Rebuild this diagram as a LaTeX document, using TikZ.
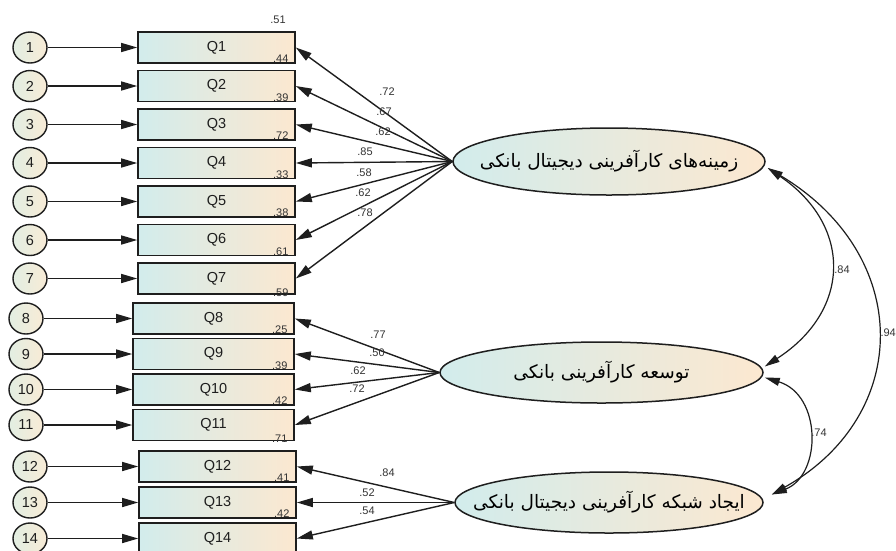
\documentclass[tikz,border=0pt]{standalone}
\usepackage{fontspec}
\setmainfont{Liberation Sans}
\newfontfamily\fa[Script=Arabic]{DejaVu Sans}
\TeXXeTstate=1
\usetikzlibrary{shapes.geometric,arrows.meta,calc}
\definecolor{cy}{HTML}{D2ECEC}
\definecolor{pe}{HTML}{FCE8D0}
\definecolor{ccy}{HTML}{E2EEE2}
\definecolor{cpe}{HTML}{F8EBD6}
\definecolor{ink}{HTML}{1E1E1E}
\definecolor{lab}{HTML}{333333}
\begin{document}
\begin{tikzpicture}[x=1pt,y=-1pt,
  box/.style={draw=ink, line width=1.6pt, left color=cy, right color=pe, minimum width=157pt, minimum height=31pt, inner sep=0pt, font=\fontsize{14.5}{14.5}\selectfont, text=ink},
  boxb/.style={box, minimum width=161pt},
  err/.style={ellipse, draw=ink, line width=1.4pt, left color=ccy, right color=cpe, minimum width=34pt, minimum height=31pt, inner sep=0pt, font=\fontsize{14.5}{14.5}\selectfont, text=ink},
  lat/.style={ellipse, draw=ink, line width=1.5pt, left color=cy, right color=pe, inner sep=0pt},
  fatext/.style={inner sep=0pt, font=\fa\fontsize{18.5}{18.5}\selectfont, text=black},
  arr/.style={draw=ink, line width=1.4pt, -{Triangle[length=16pt,width=9pt]}},
  corr/.style={draw=ink, line width=1.2pt, {Triangle[length=15pt,width=8pt]}-{Triangle[length=15pt,width=8pt]}},
  lbl/.style={font=\fontsize{11}{11}\selectfont, text=lab, inner sep=0pt}]
\clip (0,0) rectangle (896,550);
\fill[white] (0,0) rectangle (896,550);

% latent factors
\node[lat, minimum width=312pt, minimum height=67pt] (f1) at (609,161.5) {};
\node[lat, minimum width=323pt, minimum height=61pt] (f2) at (601.5,372.5) {};
\node[lat, minimum width=308pt, minimum height=61pt] (f3) at (609,502.5) {};
\node[fatext] (t1) at (f1) {\beginR زمینه‌های کارآفرینی دیجیتال بانکی\endR};
\node[fatext] (t2) at (f2) {\beginR توسعه کارآفرینی بانکی\endR};
\node[fatext] (t3) at (f3) {\beginR ایجاد شبکه کارآفرینی دیجیتال بانکی\endR};

% group 1
\foreach \i/\y/\r/\s in {1/47.5/.44/5, 2/86/.39/5, 3/124.5/.72/5, 4/163/.33/5, 5/201.5/.38/5, 6/240/.61/5, 7/278.5/.59/2} {
  \node[box] (q\i) at (216.5,\y) {Q\i};
  \node[err] (c\i) at (30,\y) {\i};
  \draw[arr] (c\i) -- (q\i);
  \node[lbl] (r\i) at ([xshift=-15pt,yshift=\s pt]q\i.south east) {\r};
  \draw[arr] (f1.west) -- (q\i.east);
}
% group 2
\foreach \i/\y/\r/\s in {8/318.5/.25/5, 9/354/.39/5, 10/389.5/.42/5, 11/425/.71/3} {
  \node[boxb] (q\i) at (213.5,\y) {Q\i};
  \node[err] (c\i) at (26,\y) {\i};
  \draw[arr] (c\i) -- (q\i);
  \node[lbl] (r\i) at ([xshift=-15pt,yshift=\s pt]q\i.south east) {\r};
  \draw[arr] (f2.west) -- (q\i.east);
}
% group 3
\foreach \i/\y in {12/466.5, 13/502.5, 14/538.5} {
  \node[box] (q\i) at (217.5,\y) {Q\i};
  \node[err] (c\i) at (30,\y) {\i};
  \draw[arr] (c\i) -- (q\i);
  \draw[arr] (f3.west) -- (q\i.east);
}
\node[lbl] (r12) at ([xshift=-15pt,yshift=5pt]q12.south east) {.41};
\node[lbl] (r13) at ([xshift=-15pt,yshift=5pt]q13.south east) {.42};
\node[lbl] (r0) at (278,20) {.51};

% loadings labels
\node[lbl] (l1) at (387,92) {.72};
\node[lbl] (l2) at (384,112) {.67};
\node[lbl] (l3) at (383,132) {.62};
\node[lbl] (l4) at (365,152) {.85};
\node[lbl] (l5) at (364,173) {.58};
\node[lbl] (l6) at (363,193) {.62};
\node[lbl] (l7) at (365,213) {.78};
\node[lbl] (l8) at (378,335) {.77};
\node[lbl] (l9) at (377,353) {.50};
\node[lbl] (l10) at (358,371) {.62};
\node[lbl] (l11) at (357,389) {.72};
\node[lbl] (l12) at (387,473) {.84};
\node[lbl] (l13) at (367,493) {.52};
\node[lbl] (l14) at (367,511) {.54};

% correlations
\coordinate (a1) at ($(f1.east)+(2,6.5)$);
\coordinate (a2) at ($(f2.east)+(1,-6)$);
\coordinate (b2) at ($(f2.east)+(1,5)$);
\coordinate (a3) at ($(f3.east)+(8,-8)$);
\draw[corr] (a1) .. controls (852,225) and (852,310) .. (a2);
\draw[corr] (b2) .. controls (822,395) and (822,475) .. (a3);
\draw[corr] (a1) .. controls (913,255) and (913,415) .. (a3);
\node[lbl] (k1) at (842,270) {.84};
\node[lbl] (k2) at (819,433) {.74};
\node[lbl, anchor=east] (k3) at (896,333) {.94};
\end{tikzpicture}
\end{document}
